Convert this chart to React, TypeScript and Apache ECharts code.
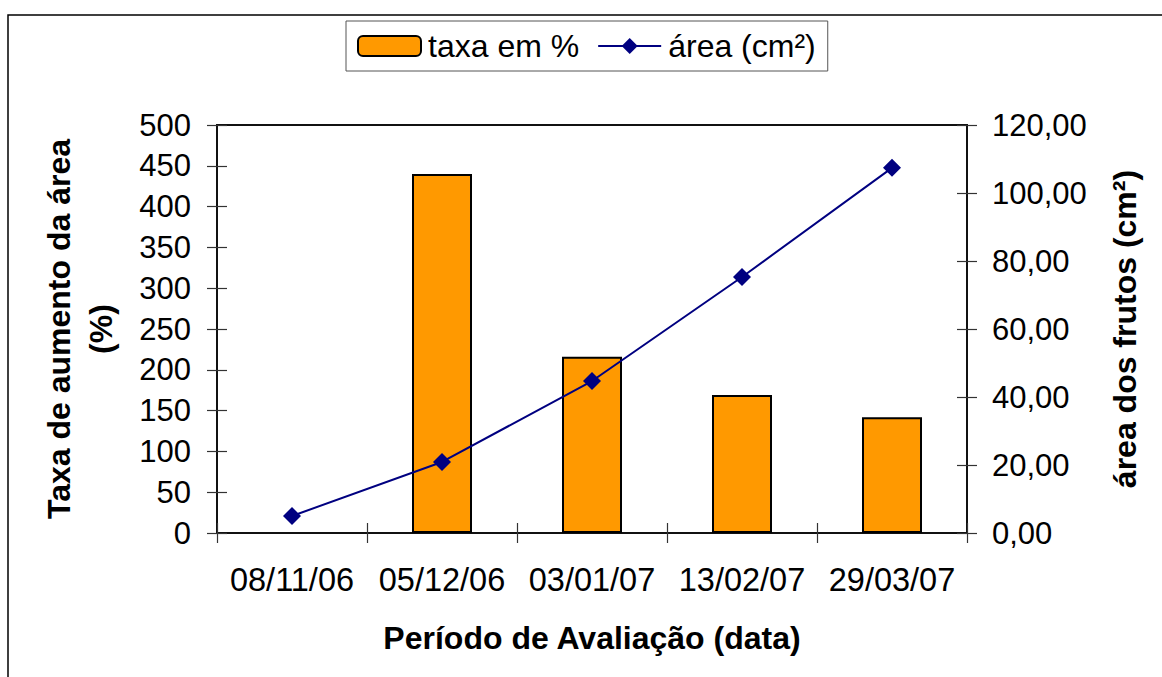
import React, { useEffect, useRef } from "react";
import * as echarts from "echarts";

const categories = ["08/11/06", "05/12/06", "03/01/07", "13/02/07", "29/03/07"];
const taxaValues: (number | null)[] = [null, 440, 216, 169, 142];
const areaValues = [5.0, 20.9, 44.7, 75.3, 107.4];
const leftTicks = { min: 0, max: 500, interval: 50 };
const rightTicks = { min: 0, max: 120, interval: 20 };
const seriesNames = ["taxa em %", "área (cm²)"];
const xTitle = "Período de Avaliação (data)";
const leftTitle = "Taxa de aumento da área\n(%)";
const rightTitle = "área dos frutos (cm²)";

const FONT = "'Liberation Sans', Arial, sans-serif";
const FS = 31;
const FSX = 32.5;
const FSL = 32;
const FST = 32;

export default function App() {
  const ref = useRef<HTMLDivElement>(null);
  useEffect(() => {
    if (!ref.current) return;
    const chart = echarts.init(ref.current, undefined, { renderer: "svg" });
    const tickOut = { show: true, inside: false, length: 10, lineStyle: { color: "#333", width: 1.2 } };
    const tickIn = { show: true, inside: true, length: 10, lineStyle: { color: "#333", width: 1.2 } };
    const axisLine = { show: true, lineStyle: { color: "#111", width: 2 } };
    const hiddenLabel = { show: false };
    const fmtComma = (v: number) => v.toFixed(2).replace(".", ",");
    chart.setOption({
      animation: false,
      backgroundColor: "#fff",
      textStyle: { fontFamily: FONT },
      grid: {
        left: 217,
        right: 195,
        top: 125,
        bottom: 144,
        containLabel: false,
        show: true,
        borderColor: "#111",
        borderWidth: 2,
        backgroundColor: "transparent",
      },
      legend: {
        left: 346,
        top: 21,
        orient: "horizontal",
        padding: [9, 12, 9, 11],
        itemGap: 18,
        itemWidth: 63,
        itemHeight: 20,
        borderColor: "#555",
        borderWidth: 1,
        backgroundColor: "#fff",
        textStyle: { fontFamily: FONT, fontSize: FSL, color: "#000", padding: [0, 0, 0, 2] },
        data: seriesNames,
      },
      xAxis: [
        {
          type: "category",
          data: categories,
          position: "bottom",
          boundaryGap: true,
          axisLine,
          axisTick: { ...tickOut, interval: 0 },
          axisLabel: { interval: 0, margin: 30, fontFamily: FONT, fontSize: FSX, color: "#000" },
          splitLine: { show: false },
        },
        {
          type: "category",
          data: categories,
          position: "bottom",
          boundaryGap: true,
          axisLine: { show: false },
          axisTick: { ...tickIn, interval: 0 },
          axisLabel: hiddenLabel,
          splitLine: { show: false },
        },
      ],
      yAxis: [
        {
          type: "value",
          position: "left",
          ...leftTicks,
          axisLine,
          axisTick: tickOut,
          axisLabel: { margin: 26, fontFamily: FONT, fontSize: FS, color: "#000" },
          splitLine: { show: false },
        },
        {
          type: "value",
          position: "right",
          ...rightTicks,
          axisLine,
          axisTick: tickOut,
          axisLabel: { margin: 25, fontFamily: FONT, fontSize: FS, color: "#000", formatter: fmtComma },
          splitLine: { show: false },
        },
        {
          type: "value",
          position: "left",
          ...leftTicks,
          axisLine: { show: false },
          axisTick: tickIn,
          axisLabel: hiddenLabel,
          splitLine: { show: false },
        },
        {
          type: "value",
          position: "right",
          ...rightTicks,
          axisLine: { show: false },
          axisTick: tickIn,
          axisLabel: hiddenLabel,
          splitLine: { show: false },
        },
      ],
      series: [
        {
          name: seriesNames[0],
          type: "bar",
          xAxisIndex: 0,
          yAxisIndex: 0,
          data: taxaValues,
          barWidth: "40%",
          itemStyle: { color: "#FF9900", borderColor: "#000", borderWidth: 2 },
        },
        {
          name: seriesNames[1],
          type: "line",
          xAxisIndex: 0,
          yAxisIndex: 1,
          data: areaValues,
          symbol: "diamond",
          symbolSize: 18,
          lineStyle: { color: "#000080", width: 2 },
          itemStyle: { color: "#000080" },
        },
      ],
      graphic: [
        {
          type: "rect",
          shape: { x: 8, y: 15, width: 1200, height: 700 },
          style: { fill: "none", stroke: "#000", lineWidth: 1.5 },
          silent: true,
          z: -10,
        },
        {
          type: "text",
          x: 592,
          y: 638,
          style: {
            text: xTitle,
            font: `bold ${FST}px ${FONT}`,
            fill: "#000",
            align: "center",
            verticalAlign: "middle",
          },
        },
        {
          type: "text",
          x: 80,
          y: 329,
          rotation: Math.PI / 2,
          style: {
            text: leftTitle,
            font: `bold ${FST}px ${FONT}`,
            fill: "#000",
            align: "center",
            verticalAlign: "middle",
            lineHeight: 42,
          },
        },
        {
          type: "text",
          x: 1125,
          y: 329,
          rotation: Math.PI / 2,
          style: {
            text: rightTitle,
            font: `bold ${FST}px ${FONT}`,
            fill: "#000",
            align: "center",
            verticalAlign: "middle",
          },
        },
      ],
    });
    return () => chart.dispose();
  }, []);
  return (
    <div
      ref={ref}
      style={{ position: "fixed", left: 0, top: 0, width: 1162, height: 677, background: "#fff" }}
    />
  );
}
